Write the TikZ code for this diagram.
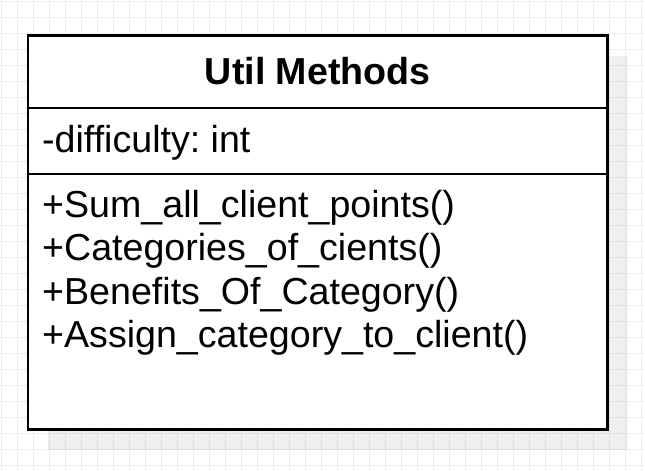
\documentclass[tikz,border=0pt]{standalone}
\usepackage{fontspec}
\setmainfont{Liberation Sans}
\frenchspacing
\begin{document}
\begin{tikzpicture}[x=1pt,y=-1pt,
  gridline/.style={draw=black!7, line width=1pt},
  boxline/.style={draw=black, line width=2.7pt},
  umltext/.style={font=\fontsize{37.6}{43.3}\selectfont, inner sep=0pt, anchor=base west},
  umltitle/.style={font=\fontsize{37.6}{43.3}\selectfont\bfseries, inner sep=0pt, anchor=base}]
\useasboundingbox (0,0) rectangle (645,471);
\fill[white] (0,0) rectangle (645,471);
% background grid
\foreach \i in {0,...,40} \draw[gridline] (1.5+16*\i,0) -- (1.5+16*\i,471);
\foreach \j in {0,...,29} \draw[gridline] (0,1.5+16*\j) -- (645,1.5+16*\j);
% drop shadow
\fill[black, opacity=0.06] (48,56) rectangle (628,450);
% class box with compartments
\coordinate (tl) at (28,35.5);
\coordinate (br) at (607.5,429.5);
\draw[boxline, fill=white] (tl) rectangle (br);
\coordinate (s1l) at (28,108);
\coordinate (s1r) at (607.5,108);
\coordinate (s2l) at (28,174);
\coordinate (s2r) at (607.5,174);
\draw[boxline] (s1l) -- (s1r);
\draw[boxline] (s2l) -- (s2r);
% texts
\node[umltitle] (title) at (317.75,84.5) {Util Methods};
\node[umltext] (attr) at (42,152.5) {-difficulty: int};
\node[umltext] (m1) at (42,217.5) {+Sum\_all\_client\_points()};
\node[umltext] (m2) at (42,260.8) {+Categories\_of\_cients()};
\node[umltext] (m3) at (42,304.1) {+Benefits\_Of\_Category()};
\node[umltext] (m4) at (42,347.4) {+Assign\_category\_to\_client()};
\end{tikzpicture}
\end{document}
